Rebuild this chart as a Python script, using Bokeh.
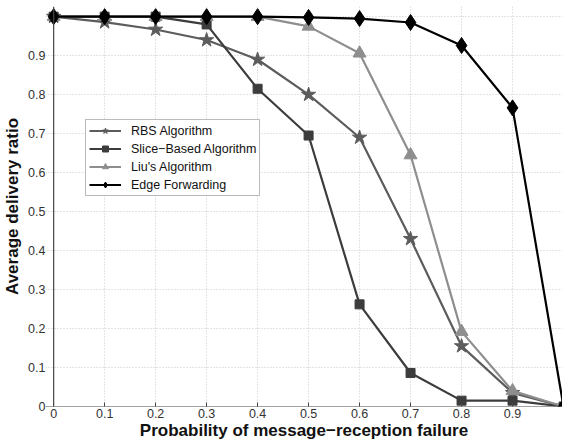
from bokeh.plotting import figure
from bokeh.models import Range1d, FixedTicker, Span, Legend, LegendItem
from bokeh.embed import file_html
from bokeh.resources import INLINE

# failure probability on the x axis
failure_prob = [0.0, 0.1, 0.2, 0.3, 0.4, 0.5, 0.6, 0.7, 0.8, 0.9, 1.0]

# average delivery ratio per algorithm
rbs = [1.0, 0.986, 0.967, 0.94, 0.89, 0.80, 0.69, 0.43, 0.155, 0.035, 0.0]
slice_based = [1.0, 1.0, 1.0, 0.98, 0.815, 0.695, 0.262, 0.086, 0.015, 0.015, 0.0]
liu = [1.0, 1.0, 1.0, 1.0, 1.0, 0.975, 0.906, 0.645, 0.192, 0.04, 0.0]
edge_forwarding = [1.0, 1.0, 1.0, 1.0, 1.0, 0.998, 0.995, 0.985, 0.926, 0.766, 0.0]

x_ticks = [0, 0.1, 0.2, 0.3, 0.4, 0.5, 0.6, 0.7, 0.8, 0.9]
y_ticks = [0, 0.1, 0.2, 0.3, 0.4, 0.5, 0.6, 0.7, 0.8, 0.9, 1.0]

FONT = "Liberation Sans"

p = figure(width=562, height=446, output_backend="svg", toolbar_location=None,
           x_range=Range1d(-0.016, 0.998), y_range=Range1d(0, 1.026),
           min_border_left=0, min_border_right=0, min_border_top=6,
           min_border_bottom=40)
p.outline_line_color = None
p.background_fill_color = "white"
p.border_fill_color = "white"

for ax in (p.xaxis, p.yaxis):
    ax.axis_line_color = None
    ax.major_tick_line_color = None
    ax.minor_tick_line_color = None
    ax.major_label_text_font = FONT
    ax.major_label_text_font_size = "12.5px"
    ax.major_label_text_color = "#333333"
    ax.axis_label_text_font = FONT
    ax.axis_label_text_font_size = "17px"
    ax.axis_label_text_font_style = "bold"
    ax.axis_label_text_color = "#111111"

# inward ticks along the bottom
p.xaxis.major_tick_line_color = "#444444"
p.xaxis.major_tick_in = 4
p.xaxis.major_tick_out = 0

p.xaxis.ticker = FixedTicker(ticks=x_ticks)
p.yaxis.ticker = FixedTicker(ticks=y_ticks)
p.xaxis.major_label_overrides = {0: "0"}
p.yaxis.major_label_overrides = {0: "0", 1: ""}
p.xaxis.major_label_standoff = 2
p.yaxis.major_label_standoff = -6
p.xaxis.axis_label = "Probability of message\u2212reception failure"
p.yaxis.axis_label = "Average delivery ratio"
p.xaxis.axis_label_standoff = 0
p.yaxis.axis_label_standoff = 3

for g in (p.xgrid, p.ygrid):
    g.grid_line_color = "#c8c8c8"
    g.grid_line_dash = "1 2"
    g.grid_line_width = 1

# axis lines drawn at the data origin
p.add_layout(Span(location=0, dimension="height", line_color="#444444", line_width=1.2))
p.add_layout(Span(location=0, dimension="width", line_color="#444444", line_width=1.2))

series = [
    ("RBS Algorithm", rbs, "#5c5c5c", "star", 15),
    ("Slice\u2212Based Algorithm", slice_based, "#3c3c3c", "square", 9),
    ("Liu's Algorithm", liu, "#8e8e8e", "triangle", 13),
    ("Edge Forwarding", edge_forwarding, "#000000", "diamond", 16),
]

items = []
for name, ys, color, marker, size in series:
    ln = p.line(failure_prob, ys, line_color=color, line_width=2.2)
    mk = p.scatter(failure_prob, ys, marker=marker, size=size,
                   fill_color=color, line_color=color)
    items.append(LegendItem(label=name, renderers=[ln, mk]))

legend = Legend(items=items, location=(40, 210))
legend.label_text_font = FONT
legend.label_text_font_size = "12.5px"
legend.label_text_color = "#111111"
legend.glyph_width = 32
legend.glyph_height = 15
legend.label_height = 15
legend.spacing = 3
legend.padding = 3
legend.margin = 0
legend.label_standoff = 10
legend.border_line_color = "#777777"
legend.border_line_width = 1
legend.background_fill_color = "white"
legend.background_fill_alpha = 1
p.add_layout(legend, "center")

open("out.html", "w").write(file_html(p, INLINE))
